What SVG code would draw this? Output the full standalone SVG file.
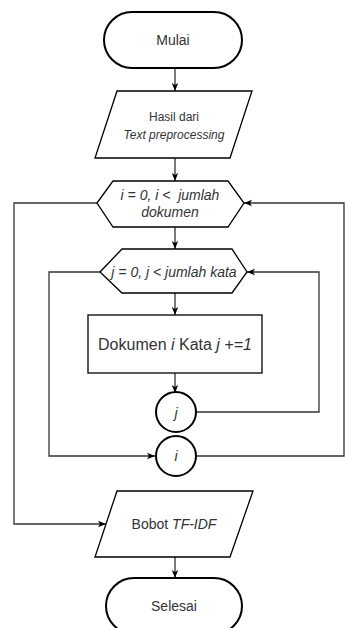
<svg xmlns="http://www.w3.org/2000/svg" width="345" height="628" viewBox="0 0 345 628">
<defs>
<marker id="arr" viewBox="0 0 10 10" markerUnits="userSpaceOnUse" markerWidth="8" markerHeight="8" refX="10" refY="5" orient="auto">
<path d="M0,1 L10,5 L0,9 L2.5,5 z" fill="#000"/>
</marker>
<style>
.thick{fill:#fff;stroke:#000;stroke-width:2}
.shape{fill:#fff;stroke:#000;stroke-width:1.3}
.edge{fill:none;stroke:#333;stroke-width:1.3;marker-end:url(#arr)}
text{font-family:"Liberation Sans",Arial,sans-serif;fill:#333;text-anchor:middle;dominant-baseline:central}
.it{font-style:italic}
</style>
</defs>
<rect width="345" height="628" fill="#fff"/>
<g id="connectors">
<path class="edge" d="M175,68 V91"/>
<path class="edge" d="M175,158 V181"/>
<path class="edge" d="M175,227 V249"/>
<path class="edge" d="M175,293 V315"/>
<path class="edge" d="M175,373 V393"/>
<path class="edge" d="M196,412 H319 V272 H247"/>
<path class="edge" d="M100,272 H49 V456 H155"/>
<path class="edge" d="M196,456 H344 V203 H244"/>
<path class="edge" d="M97,203 H14 V524 H106"/>
<path class="edge" d="M175,557 V578"/>
</g>
<g id="mulai">
<rect class="thick" x="104" y="12" width="138" height="56" rx="28" ry="28"/>
<text x="173" y="40" font-size="14">Mulai</text>
</g>
<g id="hasil">
<polygon class="shape" points="117,91 252,91 230,158 95,158"/>
<text x="174" y="117" font-size="12">Hasil dari</text>
<text x="174" y="135" font-size="12" class="it">Text preprocessing</text>
</g>
<g id="loop-i">
<polygon class="shape" points="97,203 113,181 228,181 244,203 228,227 113,227"/>
<text x="170" y="195" font-size="14" class="it" xml:space="preserve">i = 0, i &lt;  jumlah</text>
<text x="170" y="212" font-size="14" class="it">dokumen</text>
</g>
<g id="loop-j">
<polygon class="shape" points="100,272 122,249 232,249 247,272 232,293 122,293"/>
<text x="174" y="272" font-size="14" class="it">j = 0, j &lt; jumlah kata</text>
</g>
<g id="proses">
<rect class="shape" x="88" y="315" width="174" height="58"/>
<text x="175" y="344" font-size="16">Dokumen <tspan class="it">i</tspan> Kata <tspan class="it">j</tspan> <tspan class="it">+=1</tspan></text>
</g>
<g id="j-end">
<circle class="thick" cx="176" cy="412" r="20"/>
<text x="176" y="413" font-size="14" class="it">j</text>
</g>
<g id="i-end">
<circle class="thick" cx="176" cy="456" r="20"/>
<text x="176" y="456" font-size="14" class="it">i</text>
</g>
<g id="bobot">
<polygon class="shape" points="117,491 253,491 230,557 95,557"/>
<text x="174" y="524" font-size="14">Bobot <tspan class="it">TF-IDF</tspan></text>
</g>
<g id="selesai">
<rect class="thick" x="106" y="578" width="136" height="56" rx="28" ry="28"/>
<text x="174" y="606" font-size="14">Selesai</text>
</g>
</svg>
